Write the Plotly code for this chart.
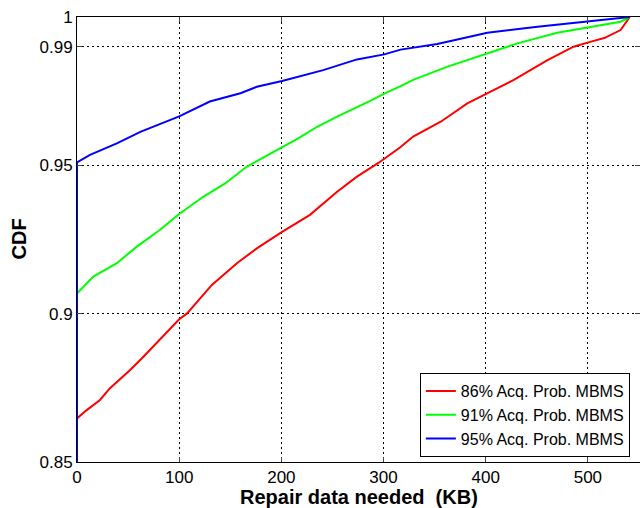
import plotly.graph_objects as go

# Data
red_x = [0, 0, 9.5, 22.5, 32, 52, 65, 81, 100, 107.5, 120.6, 132, 156.5, 176, 200.7, 228, 254.6, 274, 295, 316.7, 329, 356, 382, 401.6, 427.5, 460.5, 486, 503, 516, 532, 541]
red_y = [0.0, 0.8647, 0.8675, 0.8709, 0.8748, 0.881, 0.8855, 0.8911, 0.8981, 0.9, 0.9052, 0.9097, 0.917, 0.922, 0.9276, 0.9333, 0.9411, 0.9462, 0.9508, 0.9562, 0.9597, 0.9647, 0.9709, 0.9742, 0.9788, 0.9855, 0.99, 0.9917, 0.9929, 0.9956, 1.0]

green_x = [0, 0, 16, 39, 58.5, 81, 100, 123.5, 145, 166, 179, 200.7, 217, 235, 254.6, 287, 300.7, 316.7, 329, 362, 401.6, 431, 470, 513, 532, 541]
green_y = [0.0, 0.9068, 0.9125, 0.917, 0.9226, 0.9282, 0.9336, 0.9394, 0.9439, 0.9495, 0.952, 0.9561, 0.9592, 0.963, 0.9664, 0.9717, 0.9742, 0.9767, 0.9788, 0.9832, 0.9878, 0.9911, 0.9947, 0.9973, 0.9984, 1.0]

blue_x = [0, 0, 12.7, 39, 62, 88, 100, 130, 160, 176, 200.7, 241, 274, 300.7, 316.7, 352.6, 401.6, 450.7, 503, 520, 541]
blue_y = [0.0, 0.951, 0.9535, 0.9574, 0.9613, 0.9647, 0.9665, 0.9715, 0.9743, 0.9765, 0.9784, 0.9821, 0.9857, 0.9874, 0.989, 0.9909, 0.9947, 0.9967, 0.9985, 0.9991, 1.0]

names = ["86% Acq. Prob. MBMS", "91% Acq. Prob. MBMS", "95% Acq. Prob. MBMS"]
colors = ["#ff0000", "#00ff00", "#0000ff"]

x_ticks = [0, 100, 200, 300, 400, 500]
y_ticks = [0.85, 0.9, 0.95, 0.99, 1.0]
y_tick_labels = ["0.85", "0.9", "0.95", "0.99", "1"]

fig = go.Figure()
for xs, ys, nm, c in zip([red_x, green_x, blue_x], [red_y, green_y, blue_y], names, colors):
    fig.add_trace(go.Scatter(x=xs, y=ys, mode="lines", name=nm,
                             line=dict(color=c, width=2)))

font_family = "Liberation Sans, Arial, sans-serif"
fig.update_layout(
    width=640, height=508,
    paper_bgcolor="white", plot_bgcolor="white",
    margin=dict(l=77, r=0, t=17, b=46),
    font=dict(family=font_family, size=17, color="black"),
    showlegend=True,
    legend=dict(x=0.982, y=0.011, xanchor="right", yanchor="bottom",
                bordercolor="black", borderwidth=1, bgcolor="white",
                font=dict(size=16, family=font_family),
                tracegroupgap=0),
    annotations=[
        dict(text="<b>Repair data needed  (KB)</b>", xref="paper", yref="paper",
             x=0.5, y=0, xanchor="center", yanchor="middle", yshift=-35,
             showarrow=False, font=dict(size=20, family=font_family)),
        dict(text="<b>CDF</b>", xref="paper", yref="paper",
             x=0, y=0.5, xanchor="center", yanchor="middle", xshift=-59,
             textangle=-90, showarrow=False, font=dict(size=20, family=font_family)),
    ],
)
fig.update_xaxes(
    range=[0, 551], tickvals=x_ticks, ticks="inside", ticklen=5,
    showline=True, linecolor="black", linewidth=1, mirror="allticks",
    showgrid=True, gridcolor="black", griddash="2px,3px", gridwidth=1,
    zeroline=False, tickfont=dict(size=17), automargin=False,
)
fig.update_yaxes(
    range=[0.85, 1.0], tickvals=y_ticks, ticktext=y_tick_labels, ticks="inside", ticklen=5,
    showline=True, linecolor="black", linewidth=1, mirror="allticks",
    showgrid=True, gridcolor="black", griddash="2px,3px", gridwidth=1,
    zeroline=False, tickfont=dict(size=17), automargin=False,
)

fig.write_html("out.html", config={"displayModeBar": False},
               post_script="document.body.style.margin='0';document.body.style.overflow='hidden';")
